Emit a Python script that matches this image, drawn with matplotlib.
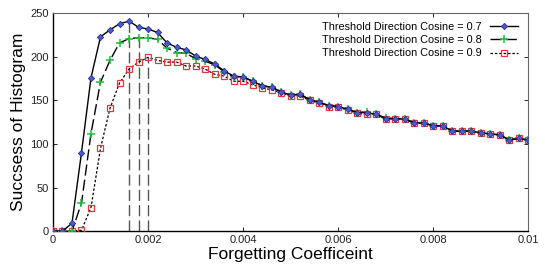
import matplotlib
matplotlib.use("Agg")
import matplotlib.pyplot as plt
import numpy as np

plt.rcParams['font.family'] = ['Liberation Sans', 'DejaVu Sans']

forgetting = [i * 0.0002 for i in range(51)]

cos07 = [0, 0, 9, 90, 176, 223, 231, 238, 241, 234, 232, 228, 216, 211, 208, 201,
         197, 192, 184, 178, 177, 172, 167, 165, 160, 156, 157, 151, 148, 144, 143,
         140, 136, 136, 134, 129, 129, 128.6, 124.4, 124, 121, 120.6, 115, 114.5, 114.8,
         113, 111.4, 110.6, 104.5, 106.4, 104.5]
cos08 = [0, 0, 0, 32, 112, 171, 196, 216, 221, 222, 222, 220, 210, 205, 204, 198,
         195, 191, 183, 177, 177, 172, 167, 165, 160, 156, 157, 151, 148, 144, 143,
         140, 136, 137, 134, 130, 129, 128.6, 124.4, 124, 121, 120.6, 115, 114.5, 115,
         113, 111.4, 110.6, 104.5, 106.4, 104.5]
cos09 = [0, 0, 0, 1, 27, 95, 141, 170, 186, 194, 199.5, 196, 194, 194, 189.5, 189.5,
         186, 180, 178, 172, 172, 168, 164.6, 162, 159, 155, 155, 150, 147, 143, 142,
         139, 135, 134, 134, 129, 129, 128.6, 124, 124, 121, 120.6, 115, 114.5, 114.5,
         112.9, 111.4, 110.6, 104.5, 106.4, 104.5]
labels = ['Threshold Direction Cosine = 0.7',
          'Threshold Direction Cosine = 0.8',
          'Threshold Direction Cosine = 0.9']
xticks = [0, 0.002, 0.004, 0.006, 0.008, 0.01]
xticklabels = ['0', '0.002', '0.004', '0.006', '0.008', '0.01']
yticks = [0, 50, 100, 150, 200, 250]

fig = plt.figure(figsize=(5.45, 2.69), dpi=100)
ax = fig.add_axes([0.0972, 0.141, 0.872, 0.8095])

ax.plot(forgetting, cos07, color='black', lw=1.0, ls='-', marker='D', ms=3.2,
        mfc='#4a5cc8', mec='#2a2f9a', mew=0.6, label=labels[0], zorder=5)
ax.plot(forgetting, cos08, color='black', lw=1.0, ls=(0, (8, 3)), marker='+', ms=6,
        mec='#1fbf3a', mew=1.1, label=labels[1], zorder=4)
ax.plot(forgetting, cos09, color='black', lw=0.9, ls=(0, (2, 1.5)), marker='s', ms=4.4,
        mfc='none', mec='#e8343a', mew=0.9, label=labels[2], zorder=3)

# vertical dashed lines at each series peak
for series in (cos07, cos08, cos09):
    i = int(np.argmax(series))
    ax.vlines(forgetting[i], 0, series[i], colors='#555555', lw=1.0,
              linestyles=(0, (8, 3)), zorder=2)

ax.set_xlim(0, 0.01)
ax.set_ylim(0, 250)
ax.set_xticks(xticks)
ax.set_xticklabels(xticklabels)
ax.set_yticks(yticks)
ax.tick_params(direction='in', length=3, width=0.6, labelsize=8, top=True, right=True,
               pad=3, labelcolor='#222222')
for s in ('left', 'bottom'):
    ax.spines[s].set_linewidth(1.0)
for s in ('top', 'right'):
    ax.spines[s].set_color('#666666')
    ax.spines[s].set_linewidth(0.8)

ax.set_xlabel('Forgetting Coefficeint', fontsize=12.5, labelpad=1)
ax.set_ylabel('Succsess of Histogram', fontsize=12.5, labelpad=3)

leg = ax.legend(loc='upper right', frameon=False, fontsize=7.8, markerfirst=False,
                handlelength=2.6, labelspacing=0.3, borderaxespad=0.3,
                bbox_to_anchor=(0.995, 0.995))

fig.savefig('out.png', dpi=100)
